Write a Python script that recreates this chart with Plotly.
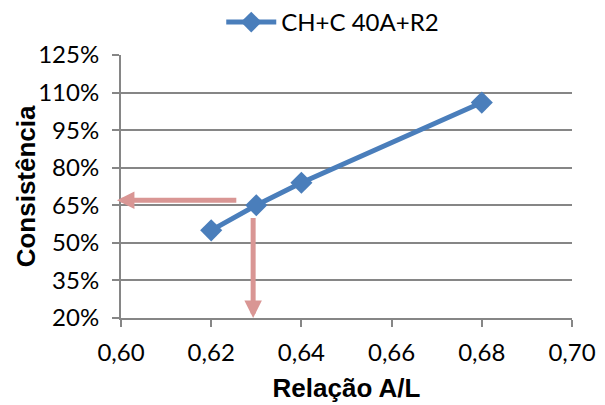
import plotly.graph_objects as go

# Water/binder ratio vs. consistency for the CH+C 40A+R2 mix
series_name = "CH+C 40A+R2"
ratio_al = [0.62, 0.63, 0.64, 0.68]
consistency = [0.55, 0.65, 0.74, 1.06]

# Reading guide: target consistency -> required ratio
target_consistency = 0.67
target_ratio = 0.6293

blue = "#4a7ebb"
guide = "#d99694"
grid = "#868686"
tick_font = dict(family="Lato, Carlito, sans-serif", size=24, color="#000000")
title_font = dict(family="Liberation Sans, Arial, sans-serif", size=26, color="#000000")

fig = go.Figure()
fig.add_trace(go.Scatter(
    x=ratio_al, y=consistency, name=series_name, mode="lines+markers",
    line=dict(color=blue, width=5),
    marker=dict(symbol="diamond", size=17, color=blue),
))

# Horizontal guide arrow pointing to the y axis
fig.add_annotation(
    x=0.5991, y=target_consistency, ax=0.6259, ay=target_consistency,
    xref="x", yref="y", axref="x", ayref="y", showarrow=True, text="",
    arrowhead=2, arrowsize=0.7, arrowwidth=5, arrowcolor=guide,
)
# Vertical guide arrow pointing to the x axis
fig.add_annotation(
    x=target_ratio, y=0.2, ax=target_ratio, ay=0.605,
    xref="x", yref="y", axref="x", ayref="y", showarrow=True, text="",
    arrowhead=2, arrowsize=0.7, arrowwidth=5, arrowcolor=guide,
)
# Y axis title, placed as a rotated label
fig.add_annotation(
    x=-0.211, y=0.5, xref="paper", yref="paper", showarrow=False,
    text="<b>Consistência</b>", textangle=-90, font=title_font,
    xanchor="center", yanchor="middle",
)

fig.update_layout(
    width=605, height=405,
    margin=dict(l=121, r=33, t=55, b=87, autoexpand=False),
    paper_bgcolor="white", plot_bgcolor="white",
    separators=",.",
    showlegend=True,
    legend=dict(orientation="h", x=0.55, xanchor="center", y=1.0, yanchor="top",
                xref="container", yref="container",
                font=tick_font, itemwidth=50, bgcolor="rgba(0,0,0,0)"),
    xaxis=dict(
        range=[0.60, 0.70], dtick=0.02, tick0=0.60, tickformat=".2f",
        showgrid=False, showline=True, linecolor=grid, linewidth=2,
        ticks="outside", ticklen=7, tickcolor=grid, tickwidth=2,
        tickfont=tick_font, zeroline=False, ticklabelstandoff=5,
        title=dict(text="<b>Relação A/L</b>", font=title_font, standoff=14),
    ),
    yaxis=dict(
        range=[0.20, 1.25], dtick=0.15, tick0=0.20, tickformat=".0%",
        showgrid=True, gridcolor=grid, gridwidth=2,
        showline=True, linecolor=grid, linewidth=2,
        ticks="outside", ticklen=7, tickcolor=grid, tickwidth=2,
        tickfont=tick_font, zeroline=False, ticklabelstandoff=8,
    ),
)

fig.write_html("out.html")
